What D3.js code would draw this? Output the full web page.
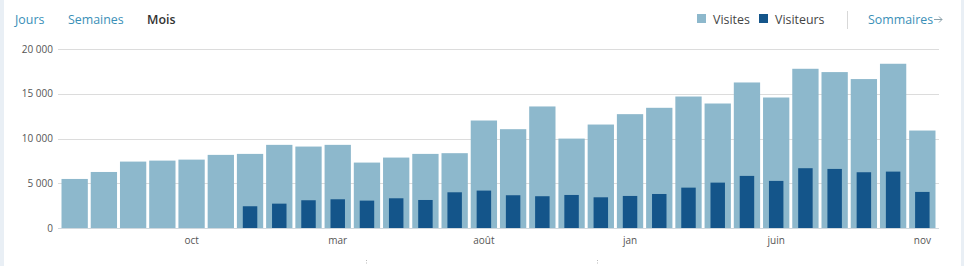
<!DOCTYPE html>
<html><head><meta charset="utf-8">
<script src="https://cdn.jsdelivr.net/npm/d3@7"></script>
<style>
html,body{margin:0;padding:0;background:#fff;}
svg{display:block;font-family:"Open Sans",sans-serif;}
</style></head>
<body><svg id="c" width="964" height="266"></svg>
<script>
const months = ["juin","juil","août","sept","oct","nov","déc","jan","fév","mar","avr","mai","juin","juil","août","sept","oct","nov","déc","jan","fév","mar","avr","mai","juin","juil","août","sept","oct","nov"];
const visites = [5480,6260,7420,7530,7640,8170,8280,9290,9100,9290,7310,7870,8280,8360,12010,11040,13580,9990,11560,12720,13430,14690,13910,16260,14580,17790,17420,16640,18350,10890];
const visiteurs = [null,null,null,null,null,null,2430,2720,3100,3210,3060,3320,3130,3990,4180,3660,3550,3690,3430,3580,3800,4510,5070,5820,5260,6680,6600,6230,6300,4030];
const xTickIdx = [4,9,14,19,24,29];
const yTicks = [0,5000,10000,15000,20000];
const tabs = ["Jours","Semaines","Mois"];
const legendLabels = ["Visites","Visiteurs"];

const svg = d3.select("#c");
const W=964,H=266;
svg.append("rect").attr("x",0).attr("y",0).attr("width",4).attr("height",H).attr("fill","#e9eff5");
svg.append("rect").attr("x",961).attr("y",0).attr("width",3).attr("height",H).attr("fill","#e9eff5");

const x = d3.scaleBand().domain(d3.range(months.length)).range([58,939]).paddingInner(0.1).paddingOuter(0.12);
const y = d3.scaleLinear().domain([0,20000]).range([228,49]);
const fmt = v => d3.format(",")(v).replace(/,/g," ");

svg.append("g").selectAll("line").data(yTicks).join("line")
  .attr("x1",58).attr("x2",939).attr("y1",d=>Math.round(y(d))+0.5).attr("y2",d=>Math.round(y(d))+0.5)
  .attr("stroke","#dcdcdc").attr("stroke-width",1);
svg.append("g").selectAll("text").data(yTicks).join("text")
  .attr("x",53).attr("y",d=>y(d)+3.5).attr("text-anchor","end")
  .attr("font-size",10).attr("fill","#555").text(fmt);

svg.append("g").selectAll("rect").data(visites).join("rect")
  .attr("x",(d,i)=>x(i)).attr("width",x.bandwidth())
  .attr("y",d=>y(d)).attr("height",d=>y(0)-y(d)).attr("fill","#8db8cc");
const dw = x.bandwidth()*0.55;
svg.append("g").selectAll("rect").data(visiteurs.map((v,i)=>({v,i})).filter(d=>d.v!=null)).join("rect")
  .attr("x",d=>x(d.i)+(x.bandwidth()-dw)/2).attr("width",dw)
  .attr("y",d=>y(d.v)).attr("height",d=>y(0)-y(d.v)).attr("fill","#14558a");

svg.append("line").attr("x1",58).attr("x2",939).attr("y1",228.5).attr("y2",228.5).attr("stroke","#d0d8de");

svg.append("g").selectAll("text").data(xTickIdx).join("text")
  .attr("x",i=>x(i)+x.bandwidth()/2).attr("y",244).attr("text-anchor","middle")
  .attr("font-size",10).attr("fill","#555").text(i=>months[i]);

const tabX=[15,68,147];
svg.append("g").selectAll("text").data(tabs).join("text")
  .attr("x",(d,i)=>tabX[i]).attr("y",24).attr("font-size",12.4)
  .attr("font-weight",(d,i)=>i===2?600:400)
  .attr("fill",(d,i)=>i===2?"#333":"#3a8fb7").text(d=>d);

const legCol=["#8db8cc","#14558a"], legX=[697,759];
legendLabels.forEach((l,i)=>{
  svg.append("rect").attr("x",legX[i]).attr("y",14).attr("width",9).attr("height",9).attr("fill",legCol[i]);
  svg.append("text").attr("x",legX[i]+16).attr("y",24).attr("font-size",12.4).attr("fill","#444").text(l);
});
svg.append("line").attr("x1",847.5).attr("x2",847.5).attr("y1",11).attr("y2",29).attr("stroke","#d8d8d8");
svg.append("text").attr("x",868).attr("y",24).attr("font-size",12.4).attr("fill","#3a8fb7").text("Sommaires");
// arrow icon
svg.append("path").attr("d","M934,19.5H942M939,16.5L942,19.5L939,22.5")
  .attr("fill","none").attr("stroke","#8aa0aa").attr("stroke-width",1);

[366,597].forEach(px=>{
  svg.append("line").attr("x1",px+0.5).attr("x2",px+0.5).attr("y1",260).attr("y2",265)
    .attr("stroke","#bbb").attr("stroke-dasharray","1,1.5");
});
</script></body></html>
